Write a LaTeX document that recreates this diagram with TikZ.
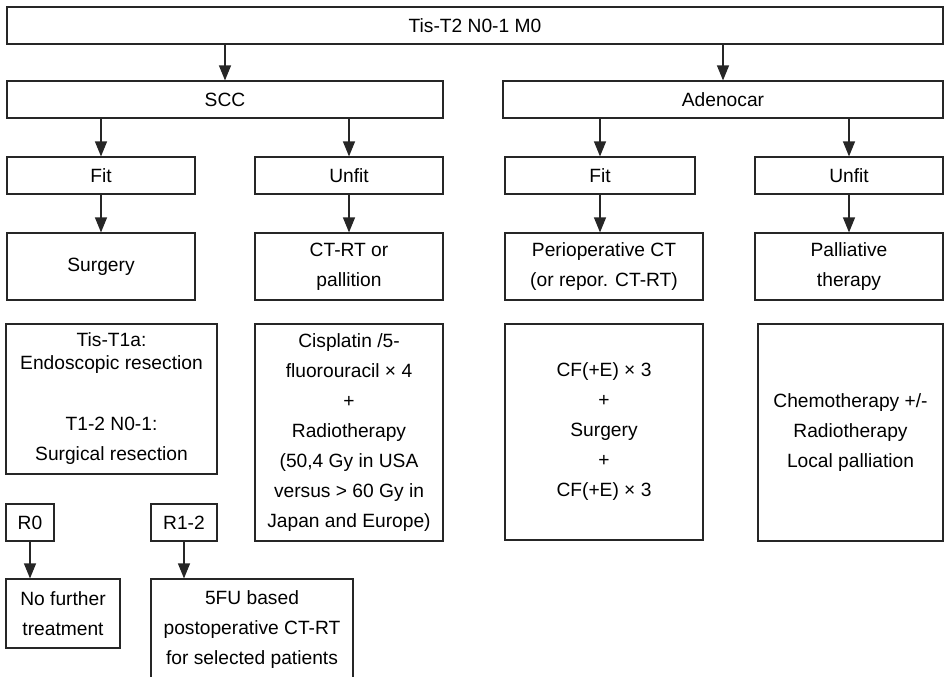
\documentclass[tikz,border=0pt]{standalone}
\usepackage{fontspec}
\setmainfont{Liberation Sans}
\usetikzlibrary{arrows.meta}

\begin{document}
\begin{tikzpicture}[x=0.5pt,y=-0.5pt,
    box/.style={draw=black!85, line width=0.6pt, inner sep=0pt, align=center,
        font=\fontsize{9.6pt}{15pt}\selectfont},
    arr/.style={draw=black!85, line width=0.6pt, -{Triangle[length=7.5pt,width=6pt]}}]
    \useasboundingbox (0,0) rectangle (946,676);

    \node [box, minimum width=468pt, minimum height=18.5pt] (stage) at (475,25.5) {Tis-T2 N0-1 M0};

    \node [box, minimum width=218pt, minimum height=18.5pt] (scc) at (225,99.5) {SCC};
    \node [box, minimum width=220pt, minimum height=18.5pt] (adeno) at (723,99.5) {Adenocar};

    \node [box, minimum width=94pt, minimum height=18.5pt] (scc fit) at (101,175.5) {Fit};
    \node [box, minimum width=94pt, minimum height=18.5pt] (scc unfit) at (349,175.5) {Unfit};
    \node [box, minimum width=95pt, minimum height=18.5pt] (adeno fit) at (600,175.5) {Fit};
    \node [box, minimum width=94pt, minimum height=18.5pt] (adeno unfit) at (849,175.5) {Unfit};

    \node [box, minimum width=94pt, minimum height=33.5pt] (surgery) at (101,266.5) {Surgery};
    \node [box, minimum width=94pt, minimum height=33.5pt] (ctrt) at (349,266.5) {CT-RT or\\pallition};
    \node [box, minimum width=99pt, minimum height=33.5pt] (periop) at (604,266.5) {Perioperative CT\\(or repor. CT-RT)};
    \node [box, minimum width=94pt, minimum height=33.5pt] (palliative) at (849,266.5) {Palliative\\therapy};

    \node [box, minimum width=105.5pt, minimum height=75pt] (surgery detail) at (111.5,399)
        {Tis-T1a:\\[-3.5pt]Endoscopic resection\\[15.5pt]T1-2 N0-1:\\Surgical resection};
    \node [box, minimum width=94pt, minimum height=108.5pt] (ctrt detail) at (349,432.5)
        {Cisplatin /5-\\fluorouracil × 4\\+\\Radiotherapy\\(50,4 Gy in USA\\versus > 60 Gy in\\Japan and Europe)};
    \node [box, minimum width=99pt, minimum height=108pt] (periop detail) at (604,432)
        {CF(+E) × 3\\+\\Surgery\\+\\CF(+E) × 3};
    \node [box, minimum width=92.5pt, minimum height=108.5pt] (palliative detail) at (850.5,432.5)
        {Chemotherapy +/-\\Radiotherapy\\Local palliation};

    \node [box, minimum width=24pt, minimum height=18.5pt] (r0) at (30,522.5) {R0};
    \node [box, minimum width=33pt, minimum height=18.5pt] (r12) at (184,522.5) {R1-2};
    \node [box, minimum width=57pt, minimum height=34.5pt] (no further) at (63,613.5) {No further\\treatment};
    \node [box, minimum width=101pt, minimum height=51pt] (fu based) at (252,630)
        {5FU based\\postoperative CT-RT\\for selected patients};

    \draw[arr] (stage.south -| scc.north) -- (scc.north);
    \draw[arr] (stage.south -| adeno.north) -- (adeno.north);
    \draw[arr] (scc.south -| scc fit.north) -- (scc fit.north);
    \draw[arr] (scc.south -| scc unfit.north) -- (scc unfit.north);
    \draw[arr] (adeno.south -| adeno fit.north) -- (adeno fit.north);
    \draw[arr] (adeno.south -| adeno unfit.north) -- (adeno unfit.north);
    \draw[arr] (scc fit.south) -- (scc fit.south |- surgery.north);
    \draw[arr] (scc unfit.south) -- (scc unfit.south |- ctrt.north);
    \draw[arr] (adeno fit.south) -- (adeno fit.south |- periop.north);
    \draw[arr] (adeno unfit.south) -- (adeno unfit.south |- palliative.north);
    \draw[arr] (r0.south) -- (r0.south |- no further.north);
    \draw[arr] (r12.south) -- (r12.south |- fu based.north);
\end{tikzpicture}
\end{document}
